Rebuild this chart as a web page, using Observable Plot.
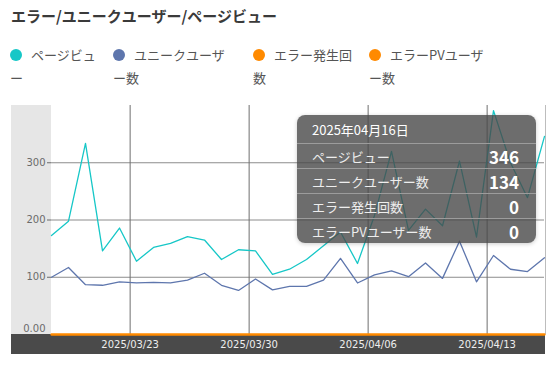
<!DOCTYPE html>
<html><head><meta charset="utf-8">
<script src="https://cdn.jsdelivr.net/npm/d3@7"></script>
<script src="https://cdn.jsdelivr.net/npm/@observablehq/plot@0.6"></script>
<style>
body{margin:0;background:#fff;font-family:"Noto Sans CJK JP","Noto Sans",sans-serif;}
#wrap{position:relative;width:555px;height:366px;overflow:hidden;}
#title{position:absolute;left:11px;top:6px;font-size:15px;line-height:20px;font-weight:bold;color:#3a3a3a;white-space:nowrap;}
.leg{position:absolute;top:43px;font-size:13px;color:#555;line-height:23px;white-space:nowrap;}
.leg .l1{padding-left:21px;display:block;}
.leg .l2{display:block;}
.leg .dot{position:absolute;left:0;top:6px;width:12px;height:12px;border-radius:50%;}
#yband{position:absolute;left:11px;top:105px;width:40px;height:229px;background:#e6e6e6;}
#xband{position:absolute;left:11px;top:334px;width:534px;height:20px;background:#4a4a4a;}
#chart{position:absolute;left:0;top:95px;}
#tip{position:absolute;left:297px;top:115px;width:239px;height:128px;border-radius:8px;background:rgba(72,72,72,0.8);color:#fff;box-shadow:0 1px 4px rgba(0,0,0,0.2);overflow:hidden;}
#tip .hd{height:29px;line-height:29px;padding-left:15px;font-size:13px;border-bottom:1px solid #9c9c9c;box-sizing:border-box;}
#tip .row{height:25px;line-height:25px;padding:0 17px 0 15px;font-size:13px;color:#eee;border-bottom:1px solid #9c9c9c;box-sizing:border-box;display:flex;justify-content:space-between;}
#tip .row:last-child{border-bottom:none;}
#tip .v{font-size:17px;font-weight:bold;color:#fff;}
</style>
</head><body>
<div id="wrap">
  <div id="title">エラー/ユニークユーザー/ページビュー</div>
  <div id="legend"></div>
  <div id="yband"></div>
  <div id="xband"></div>
  <div id="chart"></div>
  <div id="tip"></div>
</div>
<script>
// ---- data ----
const dates = ["2025-03-18","2025-03-19","2025-03-20","2025-03-21","2025-03-22","2025-03-23","2025-03-24","2025-03-25","2025-03-26","2025-03-27","2025-03-28","2025-03-29","2025-03-30","2025-03-31","2025-04-01","2025-04-02","2025-04-03","2025-04-04","2025-04-05","2025-04-06","2025-04-07","2025-04-08","2025-04-09","2025-04-10","2025-04-11","2025-04-12","2025-04-13","2025-04-14","2025-04-15","2025-04-16"];
const pageViews = [173,198,334,146,186,128,152,159,171,165,131,148,146,105,114,131,155,179,124,208,320,182,219,190,303,170,391,300,239,346];
const uniqueUsers = [100,117,87,86,92,90,91,90,95,107,86,77,97,78,84,84,95,133,90,104,111,101,125,98,163,92,138,114,110,134];
const errorCount = [0,0,0,0,0,0,0,0,0,0,0,0,0,0,0,0,0,0,0,0,0,0,0,0,0,0,0,0,0,0];
const errorPvUsers = [0,0,0,0,0,0,0,0,0,0,0,0,0,0,0,0,0,0,0,0,0,0,0,0,0,0,0,0,0,0];
const seriesNames = ["ページビュー","ユニークユーザー数","エラー発生回数","エラーPVユーザー数"];
const seriesColors = ["#16c7c7","#5e76ad","#ff8a00","#ff8a00"];
const legendLines = [["ページビュ","ー"],["ユニークユーザ","ー数"],["エラー発生回","数"],["エラーPVユーザ","ー数"]];
const xTickLabels = ["2025/03/23","2025/03/30","2025/04/06","2025/04/13"];
const yTicks = [100,200,300];
const tipDate = "2025年04月16日";

// ---- build ----
const parse = s => new Date(s + "T00:00:00Z");
const seriesValues = [pageViews, uniqueUsers, errorCount, errorPvUsers];
const rows = [];
seriesValues.forEach((vals, si) => vals.forEach((v, i) => rows.push({date: parse(dates[i]), value: v, series: seriesNames[si]})));
const xTicks = xTickLabels.map(l => new Date(l.replace(/\//g, "-") + "T00:00:00+09:00"));
const fmt = d => d3.utcFormat("%Y/%m/%d")(new Date(+d + 9 * 3600e3));

// legend
const legLeft = [10, 113, 253, 369];
const legend = document.getElementById("legend");
seriesNames.forEach((n, i) => {
  const d = document.createElement("div");
  d.className = "leg";
  d.style.left = legLeft[i] + "px";
  d.innerHTML = `<span class="dot" style="background:${seriesColors[i]}"></span><span class="l1">${legendLines[i][0]}</span><span class="l2">${legendLines[i][1]}</span>`;
  legend.appendChild(d);
});

const first = parse(dates[0]), last = parse(dates[dates.length - 1]);
const chart = Plot.plot({
  width: 555, height: 271,
  marginLeft: 51, marginRight: 11, marginTop: 10, marginBottom: 32,
  style: {fontFamily: "DejaVu Sans, sans-serif", fontSize: "10px", background: "transparent", overflow: "visible"},
  x: {type: "utc", domain: [first, last]},
  y: {domain: [0, 400]},
  color: {domain: seriesNames, range: seriesColors},
  marks: [
    Plot.gridY(yTicks, {stroke: "#8c8c8c", strokeOpacity: 1}),
    Plot.gridX(xTicks, {stroke: "#6e6e6e", strokeOpacity: 1}),
    Plot.ruleX([last], {stroke: "#bdbdbd", dx: 1}),
    Plot.line(rows.filter(r => r.series === seriesNames[0]), {x: "date", y: "value", stroke: "series", strokeWidth: 1.3}),
    Plot.line(rows.filter(r => r.series === seriesNames[1]), {x: "date", y: "value", stroke: "series", strokeWidth: 1.3}),
    Plot.line(rows.filter(r => r.series === seriesNames[2] || r.series === seriesNames[3]), {x: "date", y: "value", z: "series", stroke: "series", strokeWidth: 2}),
    Plot.axisY(yTicks, {tickSize: 4, tickPadding: 2, color: "#6b6b6b", label: null}),
    Plot.axisY([0], {tickSize: 0, tickPadding: 6, color: "#6b6b6b", dy: -6, tickFormat: () => "0.00", label: null}),
    Plot.axisX(xTicks, {tickSize: 0, tickPadding: 6, color: "#eeeeee", tickFormat: fmt, label: null})
  ]
});
document.getElementById("chart").appendChild(chart);

// tooltip (last day)
const li = dates.length - 1;
const tip = document.getElementById("tip");
tip.innerHTML = `<div class="hd">${tipDate}</div>` + seriesNames.map((n, i) =>
  `<div class="row"><span>${n}</span><span class="v">${seriesValues[i][li]}</span></div>`).join("");
</script>
</body></html>
